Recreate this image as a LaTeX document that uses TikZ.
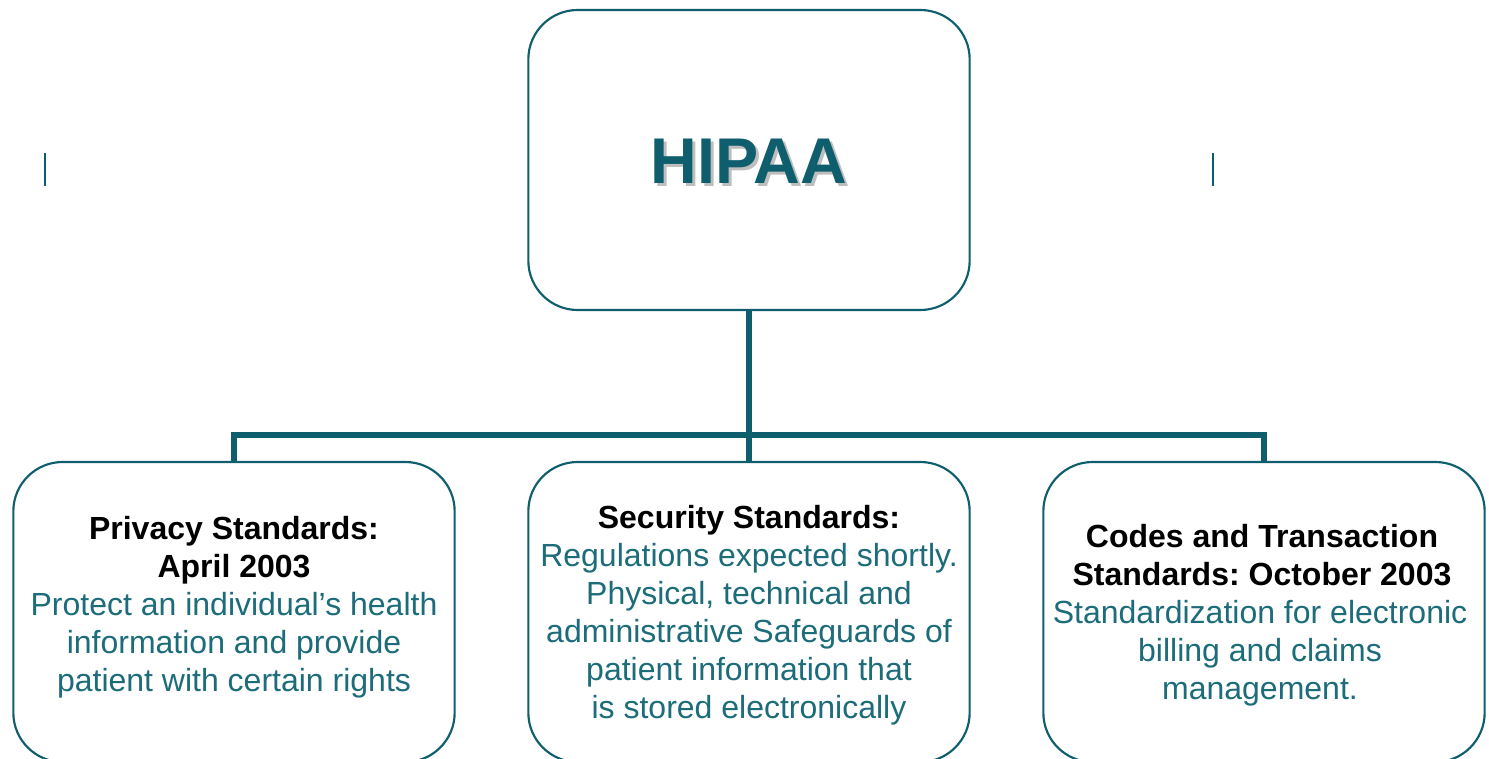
\documentclass[tikz,border=0pt]{standalone}
\usepackage{fontspec}
\setmainfont{Liberation Sans}
\usepackage{tikz}
\usetikzlibrary{positioning, calc}
\frenchspacing
\definecolor{tealdark}{RGB}{14,94,110}
\definecolor{tealtext}{RGB}{28,108,122}
\definecolor{shade}{RGB}{190,190,190}
\tikzset{
  box/.style     ={rectangle, rounded corners=37pt, draw=tealdark, line width=1.6pt,
                   fill=white, minimum width=331pt, minimum height=225pt, inner sep=0pt},
  link/.style    ={draw=tealdark, line width=4pt},
  tick/.style    ={draw=tealdark, line width=1.6pt},
  head/.style    ={font=\fontsize{24}{28.5}\selectfont\bfseries, color=black, align=center, inner sep=0pt},
  body/.style    ={font=\fontsize{24}{28.5}\selectfont, color=tealtext, align=center, inner sep=0pt},
  title/.style   ={font=\fontsize{48.5}{56}\selectfont\bfseries, inner sep=0pt},
}

\begin{document}
\begin{tikzpicture}[x=0.75pt, y=-0.75pt]
\useasboundingbox (0,0) rectangle (1489,759);
\begin{scope}
\clip (0,0) rectangle (1489,759);
% tree lines
\coordinate (hub) at (749,435);
\node[box] (top) at (749,160) {};
\node[box] (privacy) at (234,612) {};
\node[box] (security) at (749,612) {};
\node[box] (codes) at (1264,612) {};
\draw[link] (top.south) -- (hub);
\draw[link] (privacy.north) |- (hub) -| (codes.north);
\draw[link] (hub) -- (security.north);
\end{scope}

% title with drop shadow
\node[title, color=shade] (hipaashade) at (752,164) {HIPAA};
\node[title, color=tealdark] (hipaa) at (749,161) {HIPAA};

% side marks
\coordinate (ltop) at (45,153);
\coordinate (lbot) at (45,186);
\coordinate (rtop) at (1213,153);
\coordinate (rbot) at (1213,186);
\draw[tick] (ltop) -- (lbot);
\draw[tick] (rtop) -- (rbot);

% box texts
\node[head, anchor=north] (privhead) at (234,516) {Privacy Standards:\\April 2003};
\node[body, anchor=north] (privbody) at (234,592) {Protect an individual’s health\\information and provide\\patient with certain rights};

\node[head, anchor=north] (sechead) at (749,505) {Security Standards:};
\node[body, anchor=north] (secbody) at (749,543) {Regulations expected shortly.\\Physical, technical and\\administrative Safeguards of\\patient information that\\is stored electronically};

\node[head, anchor=north] (codehead) at (1262,524) {Codes and Transaction\\Standards: October 2003};
\node[body, anchor=north] (codebody) at (1260,600) {Standardization for electronic\\billing and claims\\management.};
\end{tikzpicture}
\end{document}
